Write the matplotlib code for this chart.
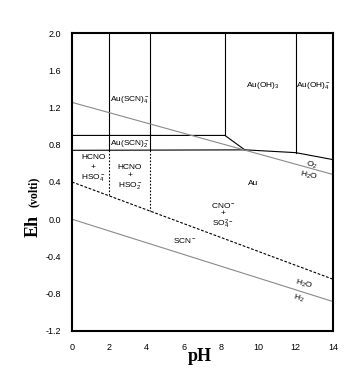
import matplotlib
matplotlib.use("Agg")
import matplotlib.pyplot as plt

plt.rcParams['font.family'] = ['Liberation Sans', 'DejaVu Sans']
plt.rcParams['mathtext.default'] = 'regular'

# ---- data ----
x_ticks = [0, 2, 4, 6, 8, 10, 12, 14]
y_ticks = [2.0, 1.6, 1.2, 0.8, 0.4, 0.0, -0.4, -0.8, -1.2]
y_tick_labels = ['2.0', '1.6', '1.2', '0.8', '0.4', '0.0', '-0.4', '-0.8', '-1.2']

# solid black field boundaries (pH, Eh)
upper_h_ph = [0, 8.2, 9.3]
upper_h_eh = [0.90, 0.90, 0.74]
lower_h_ph = [0, 9.3, 12.0, 14]
lower_h_eh = [0.74, 0.745, 0.715, 0.64]
v1_ph = [2.0, 2.0]; v1_eh = [2.0, 0.74]
v2_ph = [4.2, 4.2]; v2_eh = [2.0, 0.74]
v3_ph = [8.2, 8.2]; v3_eh = [2.0, 0.90]
v4_ph = [12.0, 12.0]; v4_eh = [2.0, 0.715]

# dotted verticals below Au(SCN)2-
d1_ph = [2.0, 2.0]; d1_eh = [0.74, 0.26]
d2_ph = [4.2, 4.2]; d2_eh = [0.74, 0.09]

# dashed SCN- / CNO- boundary
dash_ph = [0, 14]
dash_eh = [0.40, -0.645]

# water stability (gray)
o2_ph = [0, 14]
o2_eh = [1.255, 0.48]
h2_ph = [0, 14]
h2_eh = [0.0, -0.885]

# labels: (text, pH, Eh, rotation)
labels = [
    (r'Au(SCN)$_4^-$', 3.1, 1.29, 0),
    (r'Au(SCN)$_2^-$', 3.1, 0.81, 0),
    ('HCNO', 1.15, 0.66, 0),
    ('+', 1.15, 0.56, 0),
    (r'HSO$_4^-$', 1.15, 0.45, 0),
    ('HCNO', 3.1, 0.56, 0),
    ('+', 3.1, 0.465, 0),
    (r'HSO$_2^-$', 3.1, 0.36, 0),
    (r'Au(OH)$_3$', 10.25, 1.44, 0),
    (r'Au(OH)$_4^-$', 12.95, 1.44, 0),
    (r'O$_2$', 12.85, 0.585, -12),
    (r'H$_2$O', 12.7, 0.465, -12),
    ('Au', 9.7, 0.38, 0),
    (r'CNO$^-$', 8.1, 0.15, 0),
    ('+', 8.1, 0.06, 0),
    (r'SO$_4^{2-}$', 8.1, -0.05, 0),
    (r'SCN$^-$', 6.05, -0.23, 0),
    (r'H$_2$O', 12.45, -0.70, -15),
    (r'H$_2$', 12.15, -0.85, -15),
]

fig = plt.figure(figsize=(3.51, 3.71), dpi=100)
ax = fig.add_axes([0.205, 0.108, 0.744, 0.803])
ax.set_xlim(0, 14)
ax.set_ylim(-1.2, 2.0)

blk = dict(color='black', lw=0.8)
for xs, ys in [(upper_h_ph, upper_h_eh), (lower_h_ph, lower_h_eh),
               (v1_ph, v1_eh), (v2_ph, v2_eh), (v3_ph, v3_eh), (v4_ph, v4_eh)]:
    ax.plot(xs, ys, **blk)
for xs, ys in [(d1_ph, d1_eh), (d2_ph, d2_eh)]:
    ax.plot(xs, ys, color='black', lw=0.8, ls=(0, (1.5, 1.5)))
ax.plot(dash_ph, dash_eh, color='black', lw=0.8, ls=(0, (2.5, 1.5)))
ax.plot(o2_ph, o2_eh, color='#8a8a8a', lw=0.8)
ax.plot(h2_ph, h2_eh, color='#8a8a8a', lw=0.8)

for t, x, y, r in labels:
    ax.text(x, y, t, ha='center', va='center', fontsize=6, rotation=r)

ax.set_xticks(x_ticks)
ax.set_xticklabels([str(v) for v in x_ticks], fontsize=6.5)
ax.set_yticks(y_ticks)
ax.set_yticklabels(y_tick_labels, fontsize=6.5)
ax.tick_params(length=0, pad=8)
ax.tick_params(axis='x', pad=9)
for s in ax.spines.values():
    s.set_linewidth(1.5)

fig.text(0.57, 0.038, 'pH', fontsize=13, fontweight='bold', family='Liberation Serif',
         ha='center', va='center')
fig.text(0.095, 0.39, 'Eh', fontsize=13, fontweight='bold', family='Liberation Serif',
         ha='center', va='center', rotation=90)
fig.text(0.095, 0.482, '(volti)', fontsize=8.5, fontweight='bold', family='Liberation Serif',
         ha='center', va='center', rotation=90)

fig.savefig('out.png', dpi=100)
